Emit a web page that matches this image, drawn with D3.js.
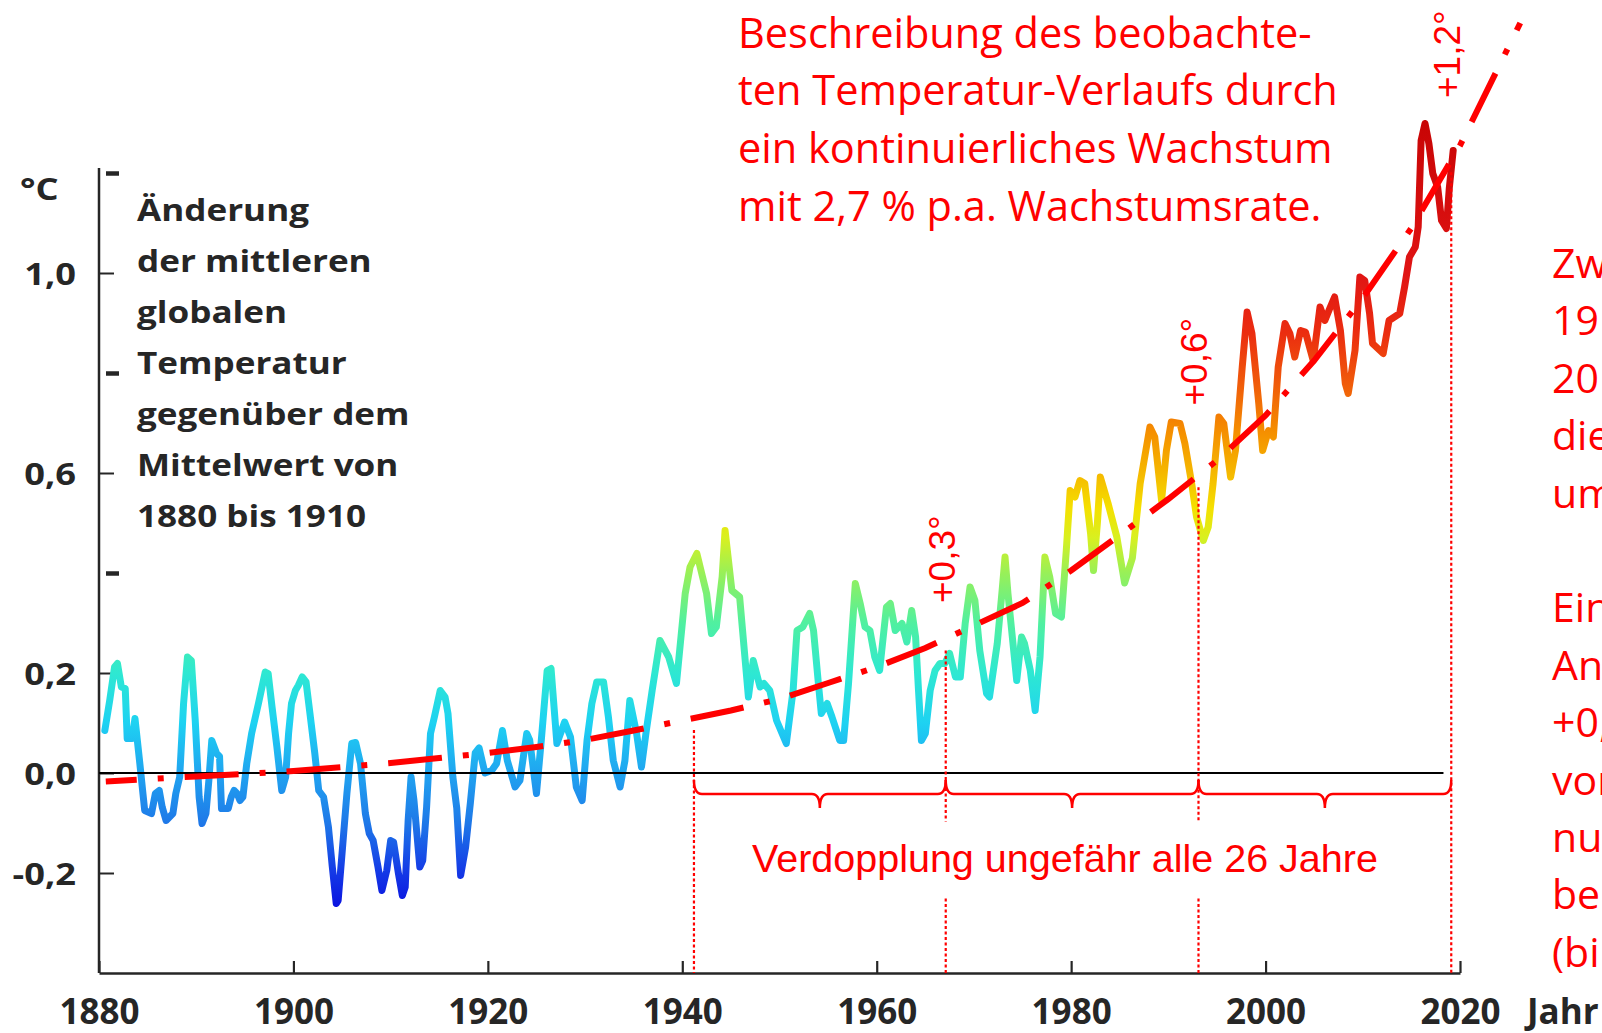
<!DOCTYPE html>
<html>
<head>
<meta charset="utf-8">
<script src="https://cdn.jsdelivr.net/npm/d3@7"></script>
<style>
    html, body { margin: 0; padding: 0; background: #fff; overflow: hidden; }
    svg { display: block; }
</style>
</head>
<body>
<svg id="chart"></svg>
<script>
const tempYears = [
    1880.6, 1881.1, 1881.6, 1881.9, 1882.3, 1882.7, 1882.9, 1883.4, 1883.7, 1884.2,
    1884.7, 1885.4, 1885.8, 1886.2, 1886.5, 1886.9, 1887.6, 1887.9, 1888.3, 1888.7,
    1889.1, 1889.5, 1889.9, 1890.3, 1890.6, 1891.0, 1891.3, 1891.6, 1892.1, 1892.4,
    1892.6, 1893.3, 1893.6, 1893.9, 1894.2, 1894.5, 1894.8, 1895.2, 1895.7, 1896.4,
    1897.1, 1897.4, 1897.8, 1898.3, 1898.8, 1899.2, 1899.5, 1899.8, 1900.2, 1900.5,
    1900.9, 1901.3, 1901.7, 1902.2, 1902.6, 1903.1, 1903.6, 1904.0, 1904.4, 1904.6,
    1905.0, 1905.5, 1906.0, 1906.4, 1906.9, 1907.4, 1907.8, 1908.2, 1908.7, 1909.1,
    1909.6, 1910.0, 1910.3, 1910.8, 1911.2, 1911.5, 1911.8, 1912.1, 1912.4, 1913.0,
    1913.3, 1913.7, 1914.1, 1914.5, 1915.1, 1915.6, 1915.9, 1916.4, 1916.8, 1917.2,
    1917.7, 1918.2, 1918.7, 1919.1, 1919.7, 1920.4, 1920.9, 1921.5, 1922.0, 1922.8,
    1923.3, 1924.0, 1924.3, 1925.0, 1925.5, 1926.1, 1926.5, 1927.1, 1927.9, 1928.5,
    1929.1, 1929.7, 1930.2, 1930.7, 1931.2, 1931.9, 1932.4, 1932.9, 1933.6, 1934.1,
    1934.6, 1935.3, 1935.8, 1936.3, 1936.9, 1937.7, 1938.6, 1939.4, 1940.3, 1940.8,
    1941.5, 1942.5, 1943.0, 1943.5, 1944.1, 1944.4, 1945.1, 1945.9, 1946.8, 1947.3,
    1948.0, 1948.4, 1949.0, 1949.7, 1950.7, 1951.4, 1951.8, 1952.4, 1953.1, 1953.5,
    1954.0, 1954.3, 1954.9, 1955.4, 1956.2, 1956.6, 1957.1, 1957.8, 1958.3, 1958.8,
    1959.3, 1959.8, 1960.3, 1961.0, 1961.4, 1961.9, 1962.6, 1963.1, 1963.6, 1964.0,
    1964.3, 1964.6, 1965.0, 1965.5, 1966.0, 1966.5, 1967.0, 1967.5, 1968.1, 1968.6,
    1969.1, 1969.6, 1970.1, 1970.6, 1971.3, 1971.6, 1972.4, 1972.9, 1973.2, 1973.5,
    1974.4, 1974.9, 1975.2, 1975.8, 1976.3, 1976.8, 1977.3, 1977.8, 1978.4, 1979.0,
    1979.5, 1979.9, 1980.4, 1980.9, 1981.4, 1982.0, 1982.3, 1982.7, 1983.0, 1983.8,
    1984.7, 1985.5, 1986.3, 1987.1, 1988.1, 1988.6, 1989.3, 1989.8, 1990.3, 1991.2,
    1991.7, 1992.4, 1992.9, 1993.6, 1994.1, 1994.6, 1995.2, 1995.7, 1996.4, 1996.9,
    1997.6, 1998.1, 1998.6, 1999.3, 1999.7, 2000.3, 2000.8, 2001.3, 2002.0, 2002.5,
    2003.0, 2003.6, 2004.1, 2004.9, 2005.6, 2006.1, 2006.6, 2007.1, 2007.7, 2008.2,
    2008.5, 2009.2, 2009.7, 2010.2, 2010.7, 2011.0, 2012.1, 2012.7, 2013.8, 2014.3,
    2014.8, 2015.4, 2015.7, 2016.0, 2016.4, 2016.8, 2017.2, 2017.7, 2018.1, 2018.6,
    2018.9, 2019.3
];
const tempValues = [
    0.085, 0.145, 0.212, 0.219, 0.172, 0.169, 0.069, 0.069, 0.109, 0.019,
    -0.075, -0.081, -0.041, -0.035, -0.068, -0.095, -0.081, -0.041, -0.008, 0.139,
    0.232, 0.225, 0.105, -0.048, -0.101, -0.081, -0.015, 0.065, 0.039, 0.033,
    -0.071, -0.071, -0.048, -0.035, -0.041, -0.055, -0.048, 0.019, 0.079, 0.139,
    0.202, 0.199, 0.132, 0.052, -0.035, -0.008, 0.079, 0.139, 0.165, 0.175,
    0.192, 0.182, 0.119, 0.039, -0.035, -0.048, -0.108, -0.188, -0.261, -0.255,
    -0.161, -0.041, 0.059, 0.061, 0.019, -0.081, -0.121, -0.135, -0.188, -0.235,
    -0.195, -0.135, -0.138, -0.201, -0.245, -0.228, -0.095, -0.008, -0.055, -0.188,
    -0.175, -0.068, 0.079, 0.112, 0.165, 0.152, 0.119, -0.008, -0.070, -0.205,
    -0.150, -0.060, 0.040, 0.050, 0.000, 0.005, 0.019, 0.085, 0.025, -0.028,
    -0.015, 0.079, 0.066, -0.041, 0.066, 0.205, 0.209, 0.059, 0.102, 0.072,
    -0.028, -0.055, 0.065, 0.139, 0.182, 0.182, 0.112, 0.025, -0.028, 0.025,
    0.145, 0.079, 0.012, 0.085, 0.165, 0.265, 0.232, 0.179, 0.359, 0.412,
    0.439, 0.359, 0.279, 0.292, 0.392, 0.485, 0.365, 0.352, 0.152, 0.225,
    0.172, 0.179, 0.165, 0.105, 0.059, 0.165, 0.285, 0.292, 0.319, 0.285,
    0.179, 0.119, 0.139, 0.112, 0.065, 0.065, 0.179, 0.379, 0.339, 0.292,
    0.285, 0.232, 0.205, 0.332, 0.339, 0.285, 0.299, 0.262, 0.325, 0.272,
    0.165, 0.065, 0.079, 0.165, 0.205, 0.219, 0.219, 0.239, 0.192, 0.192,
    0.299, 0.372, 0.345, 0.245, 0.159, 0.152, 0.259, 0.365, 0.432, 0.359,
    0.185, 0.272, 0.259, 0.205, 0.125, 0.232, 0.432, 0.392, 0.319, 0.312,
    0.445, 0.565, 0.552, 0.585, 0.579, 0.479, 0.405, 0.500, 0.592, 0.539,
    0.472, 0.380, 0.430, 0.579, 0.692, 0.672, 0.545, 0.645, 0.702, 0.699,
    0.659, 0.579, 0.512, 0.465, 0.492, 0.579, 0.712, 0.699, 0.592, 0.645,
    0.812, 0.922, 0.879, 0.739, 0.645, 0.685, 0.672, 0.812, 0.899, 0.879,
    0.832, 0.885, 0.882, 0.825, 0.932, 0.905, 0.929, 0.952, 0.885, 0.779,
    0.759, 0.845, 0.992, 0.985, 0.919, 0.859, 0.839, 0.905, 0.919, 0.972,
    1.032, 1.052, 1.092, 1.265, 1.299, 1.259, 1.199, 1.172, 1.105, 1.089,
    1.170, 1.245
];

// exponential growth curve (2,7 % p.a.)
const trendYears = [1880.7, 1885, 1890, 1895, 1900, 1905, 1910, 1915, 1920, 1925, 1930, 1935, 1940, 1945,
    1950, 1955, 1960, 1965, 1970, 1975, 1980, 1985, 1990, 1995, 2000, 2005, 2010, 2015, 2020, 2026.2];
const trendValues = [-0.017, -0.012, -0.007, -0.002, 0.004, 0.012, 0.020, 0.030, 0.040, 0.052, 0.066, 0.085, 0.105, 0.125,
    0.148, 0.180, 0.212, 0.250, 0.295, 0.340, 0.405, 0.476, 0.548, 0.625, 0.715, 0.825, 0.950, 1.090, 1.255, 1.500];

// doubling marks
const markYears = [1941.2, 1967.1, 1993.1, 2019.1];
const markLabels = ["", "+0,3°", "+0,6°", "+1,2°"];

// axes
const xTickYears = [1880, 1900, 1920, 1940, 1960, 1980, 2000, 2020];
const xTickLabels = ["1880", "1900", "1920", "1940", "1960", "1980", "2000", "2020"];
const yTickValues = [-0.2, 0.0, 0.2, 0.4, 0.6, 0.8, 1.0, 1.2];
const yTickLabels = ["-0,2", "0,0", "0,2", "", "0,6", "", "1,0", ""];

// texts
const descLines = ["Änderung", "der mittleren", "globalen", "Temperatur", "gegenüber dem", "Mittelwert von", "1880 bis 1910"];
const noteLines = ["Beschreibung des beobachte-", "ten Temperatur-Verlaufs durch", "ein kontinuierliches Wachstum", "mit 2,7 % p.a. Wachstumsrate."];
const sideLines = ["Zw", "19", "20", "die", "um", "", "Ein", "An", "+0,", "vor", "nu", "be", "(bi"];
const braceText = "Verdopplung ungefähr alle 26 Jahre";

const width = 1602, height = 1033;
const dark = "#262626", red = "#ff0000";
const boldFont = "'Open Sans', 'DejaVu Sans', sans-serif";
const stretch = 1.17;

let svg = d3.select("#chart")
    .attr("width", width)
    .attr("height", height)
    .attr("viewBox", [0, 0, width, height]);

//Scale
let xScale = d3.scaleLinear().domain([1880, 2020]).range([99, 1460]);
let yScale = d3.scaleLinear().domain([-0.4, 1.2]).range([973, 173]);
let trendAt = d3.scaleLinear().domain(trendYears).range(trendValues);

// colour of the curve follows the temperature value
const colorStops = [
    [-0.27, "#0a12e0"], [-0.2, "#1438e6"], [-0.1, "#1e78e8"], [0.0, "#20a4f0"],
    [0.1, "#1ed2f2"], [0.2, "#2ee8d2"], [0.3, "#50f0a0"], [0.4, "#98f058"],
    [0.47, "#d8f020"], [0.53, "#f5e000"], [0.6, "#f5b800"], [0.68, "#f59000"],
    [0.78, "#f05a0a"], [0.88, "#eb2d10"], [1.0, "#e01414"], [1.3, "#c80505"]
];
let grad = svg.append("defs").append("linearGradient")
    .attr("id", "tempGrad")
    .attr("gradientUnits", "userSpaceOnUse")
    .attr("x1", 0).attr("x2", 0)
    .attr("y1", yScale(-0.27)).attr("y2", yScale(1.3));
grad.selectAll("stop")
    .data(colorStops)
    .enter()
    .append("stop")
    .attr("offset", d => (d[0] + 0.27) / 1.57)
    .attr("stop-color", d => d[1]);

//Axis
let yAxis = d3.axisLeft(yScale)
    .tickValues(yTickValues)
    .tickSizeInner(-15)
    .tickSizeOuter(0)
    .tickPadding(22)
    .tickFormat((d, i) => yTickLabels[i]);

let gy = svg.append("g")
    .attr("transform", "translate(" + xScale(1880) + ",0)")
    .call(yAxis);
gy.select(".domain").remove();
gy.selectAll(".tick line")
    .attr("stroke", dark)
    .attr("stroke-width", (d, i) => yTickLabels[i] === "" ? 4.5 : 2)
    .attr("x1", (d, i) => yTickLabels[i] === "" ? 7 : 0)
    .attr("x2", (d, i) => yTickLabels[i] === "" ? 20 : 15);
gy.selectAll(".tick text")
    .attr("fill", dark)
    .attr("font-family", boldFont)
    .attr("font-weight", 700)
    .attr("font-size", 31)
    .attr("x", null)
    .attr("dy", "0.36em")
    .attr("transform", "translate(-23,0) scale(" + stretch + ",1)");
gy.append("line")
    .attr("x1", 0).attr("x2", 0)
    .attr("y1", yScale(-0.4)).attr("y2", yScale(1.21))
    .attr("stroke", dark)
    .attr("stroke-width", 2.5);

let xAxis = d3.axisBottom(xScale)
    .tickValues(xTickYears)
    .tickSizeInner(-12)
    .tickSizeOuter(0)
    .tickPadding(26)
    .tickFormat((d, i) => xTickLabels[i]);

let gx = svg.append("g")
    .attr("transform", "translate(0," + yScale(-0.4) + ")")
    .call(xAxis);
gx.select(".domain").attr("stroke", dark).attr("stroke-width", 2.5);
gx.selectAll(".tick line").attr("stroke", dark).attr("stroke-width", 2.2);
gx.selectAll(".tick text")
    .attr("fill", dark)
    .attr("font-family", boldFont)
    .attr("font-weight", 700)
    .attr("font-size", 35);

svg.append("text")
    .attr("x", 1527).attr("y", 1024)
    .attr("fill", dark)
    .attr("font-family", boldFont)
    .attr("font-weight", 700)
    .attr("font-size", 35)
    .text("Jahr");

svg.append("text")
    .attr("transform", "translate(20,200) scale(" + stretch + ",1)")
    .attr("fill", dark)
    .attr("font-family", boldFont)
    .attr("font-weight", 700)
    .attr("font-size", 31)
    .text("°C");

// left description
svg.append("g")
    .selectAll("text")
    .data(descLines)
    .enter()
    .append("text")
    .attr("transform", (d, i) => "translate(137," + (220.5 + i * 51) + ") scale(" + stretch + ",1)")
    .attr("fill", dark)
    .attr("font-family", boldFont)
    .attr("font-weight", 700)
    .attr("font-size", 30)
    .text(d => d);

// temperature curve
let tempData = tempYears.map((y, i) => [y, tempValues[i]]);
let line = d3.line()
    .x(d => xScale(d[0]))
    .y(d => yScale(d[1]));

svg.append("path")
    .datum(tempData)
    .attr("d", line)
    .attr("fill", "none")
    .attr("stroke", "url(#tempGrad)")
    .attr("stroke-width", 7)
    .attr("stroke-linejoin", "round")
    .attr("stroke-linecap", "round");

// zero line
svg.append("line")
    .attr("x1", xScale(1880)).attr("x2", xScale(2018.3))
    .attr("y1", yScale(0)).attr("y2", yScale(0))
    .attr("stroke", "#000")
    .attr("stroke-width", 2);

// growth curve
let trendData = trendYears.map((y, i) => [y, trendValues[i]]);
svg.append("path")
    .datum(trendData)
    .attr("d", line)
    .attr("fill", "none")
    .attr("stroke", red)
    .attr("stroke-width", 6)
    .attr("stroke-dasharray", "54 21 6 21")
    .attr("stroke-dashoffset", 23);

// braces between the marks
let yTop = yScale(0) + 7, yMid = yScale(0) + 21, yTip = yScale(0) + 35;
let braces = d3.pairs(markYears).map(p => {
    let x0 = xScale(p[0]), x1 = xScale(p[1]), xm = (x0 + x1) / 2;
    return "M" + x0 + "," + yTop + " Q" + x0 + "," + yMid + " " + (x0 + 8) + "," + yMid
        + " L" + (xm - 8) + "," + yMid + " Q" + xm + "," + yMid + " " + xm + "," + yTip
        + " Q" + xm + "," + yMid + " " + (xm + 8) + "," + yMid
        + " L" + (x1 - 8) + "," + yMid + " Q" + x1 + "," + yMid + " " + x1 + "," + yTop;
});
svg.append("g")
    .selectAll("path")
    .data(braces)
    .enter()
    .append("path")
    .attr("d", d => d)
    .attr("fill", "none")
    .attr("stroke", red)
    .attr("stroke-width", 2.5);

let braceLabel = svg.append("text")
    .attr("x", 752).attr("y", 871.5)
    .attr("fill", red)
    .attr("font-family", "'Liberation Sans', Arial, sans-serif")
    .attr("font-size", 39.5)
    .text(braceText);
let lb = braceLabel.node().getBBox();

// dotted verticals, interrupted where they cross the label
let segs = [];
markYears.forEach(yr => {
    let x = xScale(yr), top = yScale(trendAt(yr)) + 12, bottom = yScale(-0.4);
    if (x > lb.x && x < lb.x + lb.width) {
        segs.push([x, top, lb.y - 14]);
        segs.push([x, lb.y + lb.height + 19, bottom]);
    } else {
        segs.push([x, top, bottom]);
    }
});
svg.append("g")
    .selectAll("line")
    .data(segs)
    .enter()
    .append("line")
    .attr("x1", d => d[0]).attr("x2", d => d[0])
    .attr("y1", d => d[1]).attr("y2", d => d[2])
    .attr("stroke", red)
    .attr("stroke-width", 2.2)
    .attr("stroke-dasharray", "3 2.5");

// rotated increase labels
const labelBottoms = [0, 0.34, 0.735, 1.35];
svg.append("g")
    .selectAll("text")
    .data(markYears)
    .enter()
    .append("text")
    .attr("transform", (d, i) => "translate(" + (xScale(d) + 9) + "," + yScale(labelBottoms[i]) + ") rotate(-90)")
    .attr("fill", red)
    .attr("font-family", "'Liberation Sans', Arial, sans-serif")
    .attr("font-size", 37)
    .text((d, i) => markLabels[i]);

// note at the top
svg.append("g")
    .selectAll("text")
    .data(noteLines)
    .enter()
    .append("text")
    .attr("x", 738)
    .attr("y", (d, i) => 47.7 + i * 57.7)
    .attr("fill", red)
    .attr("font-family", "'Open Sans', sans-serif")
    .attr("font-size", 41.5)
    .text(d => d);

// text running off the right edge, as in the original
svg.append("g")
    .selectAll("text")
    .data(sideLines)
    .enter()
    .append("text")
    .attr("x", 1552)
    .attr("y", (d, i) => 278 + i * 57.4)
    .attr("fill", red)
    .attr("font-family", "'Open Sans', sans-serif")
    .attr("font-size", 41)
    .text(d => d);
</script>
</body>
</html>
